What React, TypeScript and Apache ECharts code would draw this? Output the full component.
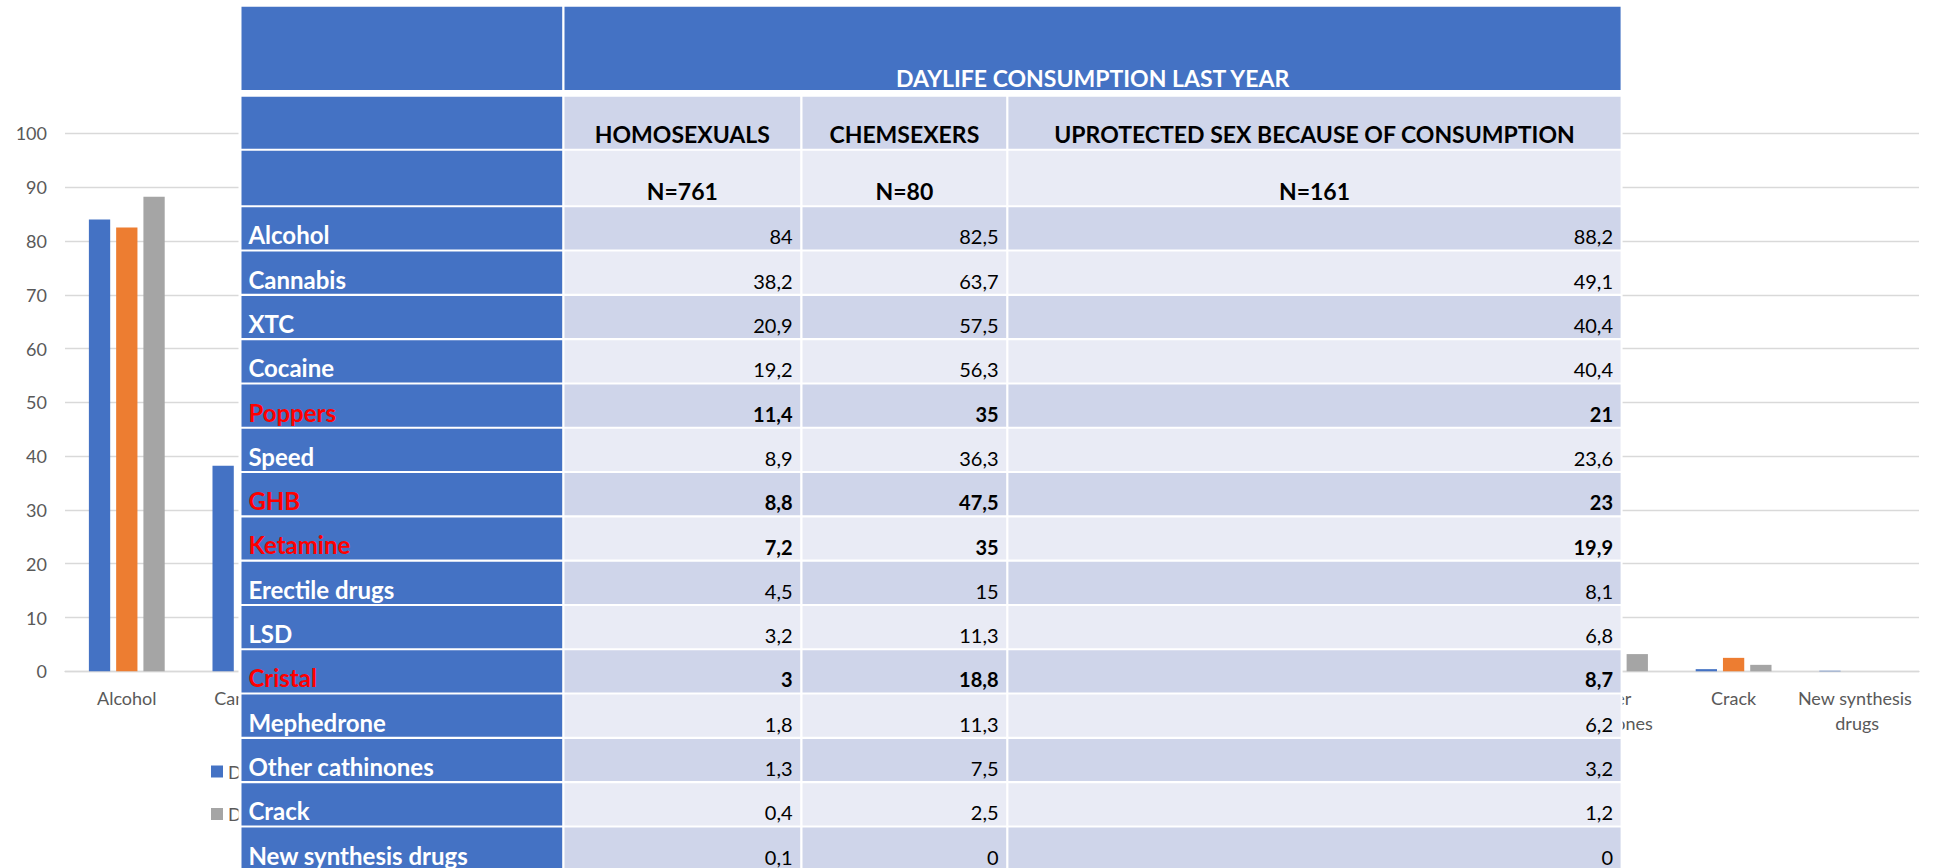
import React, { useEffect, useRef } from "react";
import * as echarts from "echarts";

const categories = [
  "Alcohol", "Cannabis", "XTC", "Cocaine", "Poppers", "Speed", "GHB", "Ketamine",
  "Erectile drugs", "LSD", "Cristal", "Mephedrone", "Other cathinones", "Crack", "New synthesis drugs",
];
const homosexuals = [84, 38.2, 20.9, 19.2, 11.4, 8.9, 8.8, 7.2, 4.5, 3.2, 3, 1.8, 1.3, 0.4, 0.1];
const chemsexers = [82.5, 63.7, 57.5, 56.3, 35, 36.3, 47.5, 35, 15, 11.3, 18.8, 11.3, 7.5, 2.5, 0];
const unprotected = [88.2, 49.1, 40.4, 40.4, 21, 23.6, 23, 19.9, 8.1, 6.8, 8.7, 6.2, 3.2, 1.2, 0];
const highlighted = ["Poppers", "GHB", "Ketamine", "Cristal"];
const tableTitle = "DAYLIFE CONSUMPTION LAST YEAR";
const groupHeaders = ["HOMOSEXUALS", "CHEMSEXERS", "UPROTECTED SEX BECAUSE OF CONSUMPTION"];
const groupSizes = ["N=761", "N=80", "N=161"];
const seriesColors = ["#4472C4", "#ED7D31", "#A5A5A5"];
const seriesNames = groupHeaders.map((h, i) => `${tableTitle} ${h} ${groupSizes[i]}`);

const FONT = "Lato, 'Open Sans', sans-serif";
const BLUE = "#4472C4";
const DARK = "#CFD5EA";
const LIGHT = "#E9EBF5";

const fmt = (v: number) => String(v).replace(".", ",");

function buildTable() {
  const els: any[] = [];
  const colL = [241.5, 564.5, 802.5, 1008.4];
  const colR = [562.2, 800.2, 1006.2, 1620.6];
  const Z = 100;
  const rect = (x: number, y: number, w: number, h: number, fill: string) =>
    els.push({ type: "rect", z: Z, silent: true, shape: { x, y, width: w, height: h }, style: { fill } });
  const text = (t: string, x: number, baseline: number, fs: number, bold: boolean, fill: string, align: string) =>
    els.push({
      type: "text",
      z: Z + 1,
      silent: true,
      x,
      y: baseline + 0.11 * fs,
      style: {
        text: t,
        fill,
        fontFamily: FONT,
        fontSize: fs,
        fontWeight: bold ? "bold" : "normal",
        align,
        textAlign: align,
        verticalAlign: "bottom",
        textVerticalAlign: "bottom",
      },
    });

  // white backdrop
  rect(238.5, 3, 1622.6 - 238.5, 868 - 3, "#FFFFFF");

  // header row 1
  const r1T = 6.7, r1B = 90;
  rect(colL[0], r1T, colR[0] - colL[0], r1B - r1T, BLUE);
  rect(colL[1], r1T, colR[3] - colL[1], r1B - r1T, BLUE);
  text(tableTitle, (colL[1] + colR[3]) / 2, r1B - 3.3, 23, true, "#FFFFFF", "center");

  // header row 2 & 3
  const hdrRows = [
    { t: 96.7, b: 148.7, fill: DARK, labels: groupHeaders },
    { t: 150.7, b: 205.3, fill: LIGHT, labels: groupSizes },
  ];
  hdrRows.forEach((r) => {
    rect(colL[0], r.t, colR[0] - colL[0], r.b - r.t, BLUE);
    for (let c = 1; c < 4; c++) {
      rect(colL[c], r.t, colR[c] - colL[c], r.b - r.t, r.fill);
      text(r.labels[c - 1], (colL[c] + colR[c]) / 2, r.b - 5.3, 23, true, "#000000", "center");
    }
  });

  // data rows
  const start = 207.3, pitch = 44.3, h = 42.2;
  categories.forEach((cat, i) => {
    const t = start + i * pitch;
    const b = t + h;
    const fill = i % 2 === 0 ? DARK : LIGHT;
    const hi = highlighted.includes(cat);
    rect(colL[0], t, colR[0] - colL[0], h, BLUE);
    text(cat, colL[0] + 6.9, b - 5.3, 24, true, hi ? "#FF0000" : "#FFFFFF", "left");
    const vals = [homosexuals[i], chemsexers[i], unprotected[i]];
    for (let c = 1; c < 4; c++) {
      rect(colL[c], t, colR[c] - colL[c], h, fill);
      text(fmt(vals[c - 1]), colR[c] - 7.6, b - 5.3, 20, hi, "#000000", "right");
    }
  });
  return els;
}

export default function App() {
  const ref = useRef<HTMLDivElement>(null);
  useEffect(() => {
    if (!ref.current) return;
    const chart = echarts.init(ref.current, null, { renderer: "svg" });
    const legendBase = {
      left: 211,
      orient: "horizontal",
      icon: "rect",
      itemWidth: 12,
      itemHeight: 12,
      itemGap: 30,
      padding: 0,
      textStyle: { color: "#595959", fontSize: 18, fontFamily: FONT },
    };
    chart.setOption({
      animation: false,
      backgroundColor: "#FFFFFF",
      grid: { left: 65, right: 18, top: 133.4, bottom: 196.7, containLabel: false },
      legend: [
        { ...legendBase, top: 762.5, data: [seriesNames[0], seriesNames[1]] },
        { ...legendBase, top: 805, data: [seriesNames[2]] },
      ],
      xAxis: {
        type: "category",
        data: categories,
        axisTick: { show: false },
        axisLine: { lineStyle: { color: "#D9D9D9", width: 1.3 } },
        axisLabel: {
          interval: 0,
          color: "#595959",
          fontFamily: FONT,
          fontSize: 18,
          margin: 14,
          width: 120,
          overflow: "break",
          lineHeight: 25,
        },
      },
      yAxis: {
        type: "value",
        min: 0,
        max: 100,
        interval: 10,
        axisLine: { show: false },
        axisTick: { show: false },
        splitLine: { lineStyle: { color: "#D9D9D9", width: 1.3 } },
        axisLabel: { color: "#595959", fontFamily: FONT, fontSize: 18, margin: 18 },
      },
      series: [homosexuals, chemsexers, unprotected].map((d, i) => ({
        type: "bar",
        name: seriesNames[i],
        data: d,
        barWidth: 21.3,
        barGap: "28%",
        itemStyle: { color: seriesColors[i] },
      })),
      graphic: { elements: buildTable() },
    });
    return () => chart.dispose();
  }, []);
  return (
    <div
      ref={ref}
      style={{ position: "fixed", left: 0, top: 0, width: 1937, height: 868, background: "#fff" }}
    />
  );
}
